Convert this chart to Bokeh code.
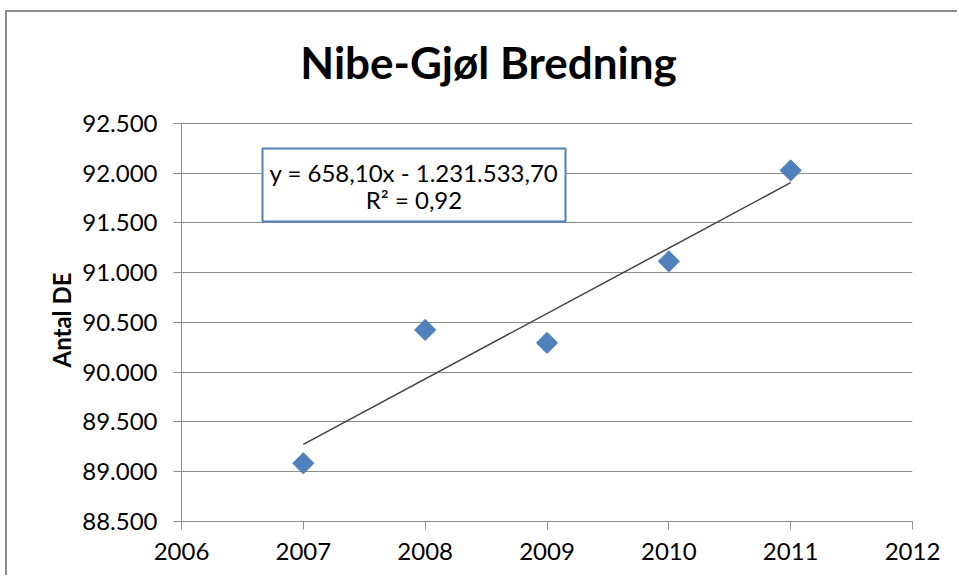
import numpy as np
from bokeh.plotting import figure
from bokeh.models import Range1d, FixedTicker, Label, BoxAnnotation, Title
from bokeh.embed import file_html
from bokeh.resources import INLINE

# ---- data ----
years = [2007, 2008, 2009, 2010, 2011]
antal_de = [89085, 90425, 90295, 91115, 92028]

x_ticks = [2006, 2007, 2008, 2009, 2010, 2011, 2012]
x_tick_labels = ["2006", "2007", "2008", "2009", "2010", "2011", "2012"]
y_ticks = [88500, 89000, 89500, 90000, 90500, 91000, 91500, 92000, 92500]
y_tick_labels = ["88.500", "89.000", "89.500", "90.000", "90.500",
                 "91.000", "91.500", "92.000", "92.500"]

title_text = "Nibe-Gjøl Bredning"
y_axis_title = "Antal DE"
equation_text = "y = 658,10x - 1.231.533,70"
r2_text = "R² = 0,92"

FONT = "Lato"
GRID = "#8C8C8C"
BLUE = "#4F81BD"

# frame extends to the top of the chart so that the title can sit inside it;
# axis line and grid stop at the last tick.
Y_TOP = 93615

W, H = 952, 565
p = figure(width=W, height=H, output_backend="svg", toolbar_location=None,
           x_range=Range1d(x_ticks[0], x_ticks[-1]),
           y_range=Range1d(y_ticks[0], Y_TOP),
           min_border_left=174, min_border_right=47,
           min_border_top=0, min_border_bottom=56)
p.margin = (10, 0, 0, 5)
p.outline_line_color = None
p.background_fill_color = "white"
p.border_fill_color = "white"
p.styles = {"border-left": "2px solid #8C8C8C", "border-top": "2px solid #8C8C8C"}

# grid
p.xgrid.grid_line_color = None
p.ygrid.grid_line_color = GRID
p.ygrid.grid_line_width = 1
p.ygrid.ticker = FixedTicker(ticks=y_ticks)

# axes
p.xaxis.ticker = FixedTicker(ticks=x_ticks)
p.yaxis.ticker = FixedTicker(ticks=y_ticks)
p.yaxis.bounds = (y_ticks[0], y_ticks[-1])
p.xaxis.major_label_overrides = {t: l for t, l in zip(x_ticks, x_tick_labels)}
p.yaxis.major_label_overrides = {t: l for t, l in zip(y_ticks, y_tick_labels)}
for ax in (p.xaxis, p.yaxis):
    ax.axis_line_color = GRID
    ax.axis_line_width = 1
    ax.major_tick_line_color = GRID
    ax.major_tick_in = 0
    ax.major_tick_out = 8
    ax.minor_tick_line_color = None
    ax.major_label_text_font = FONT
    ax.major_label_text_font_size = "24px"
    ax.major_label_text_color = "#000000"
p.xaxis.major_label_standoff = 13
p.yaxis.major_label_standoff = 16

# y axis title: rotated title on the left, placed along the plotted span
p.add_layout(Title(text=y_axis_title, align="left", offset=154,
                   vertical_align="bottom", standoff=8,
                   text_font=FONT, text_font_style="bold",
                   text_font_size="24px", text_color="#000000"), "left")

# trendline from linear fit of the data
coef = np.polyfit(years, antal_de, 1)
tx = [years[0], years[-1]]
ty = list(np.polyval(coef, tx))
p.line(tx, ty, line_color="#404040", line_width=1.5)

# points
p.scatter(years, antal_de, marker="square", size=15, angle=np.pi / 4,
          fill_color=BLUE, line_color=BLUE)

# equation box
p.add_layout(BoxAnnotation(left=2006.665, right=2009.152, top=92249, bottom=91515,
                           fill_color="white", fill_alpha=1.0,
                           line_color=BLUE, line_alpha=1.0, line_width=2))
p.add_layout(Label(x=2007.908, y=92007, text=equation_text,
                   text_align="center", text_baseline="middle",
                   text_font=FONT, text_font_size="24px", text_color="#000000"))
p.add_layout(Label(x=2007.908, y=91736, text=r2_text,
                   text_align="center", text_baseline="middle",
                   text_font=FONT, text_font_size="24px", text_color="#000000"))

# title
p.add_layout(Label(x=2008.52, y=93113, text=title_text,
                   text_align="center", text_baseline="middle",
                   text_font=FONT, text_font_style="bold",
                   text_font_size="44px", text_color="#000000"))

open("out.html", "w").write(file_html(p, INLINE))
